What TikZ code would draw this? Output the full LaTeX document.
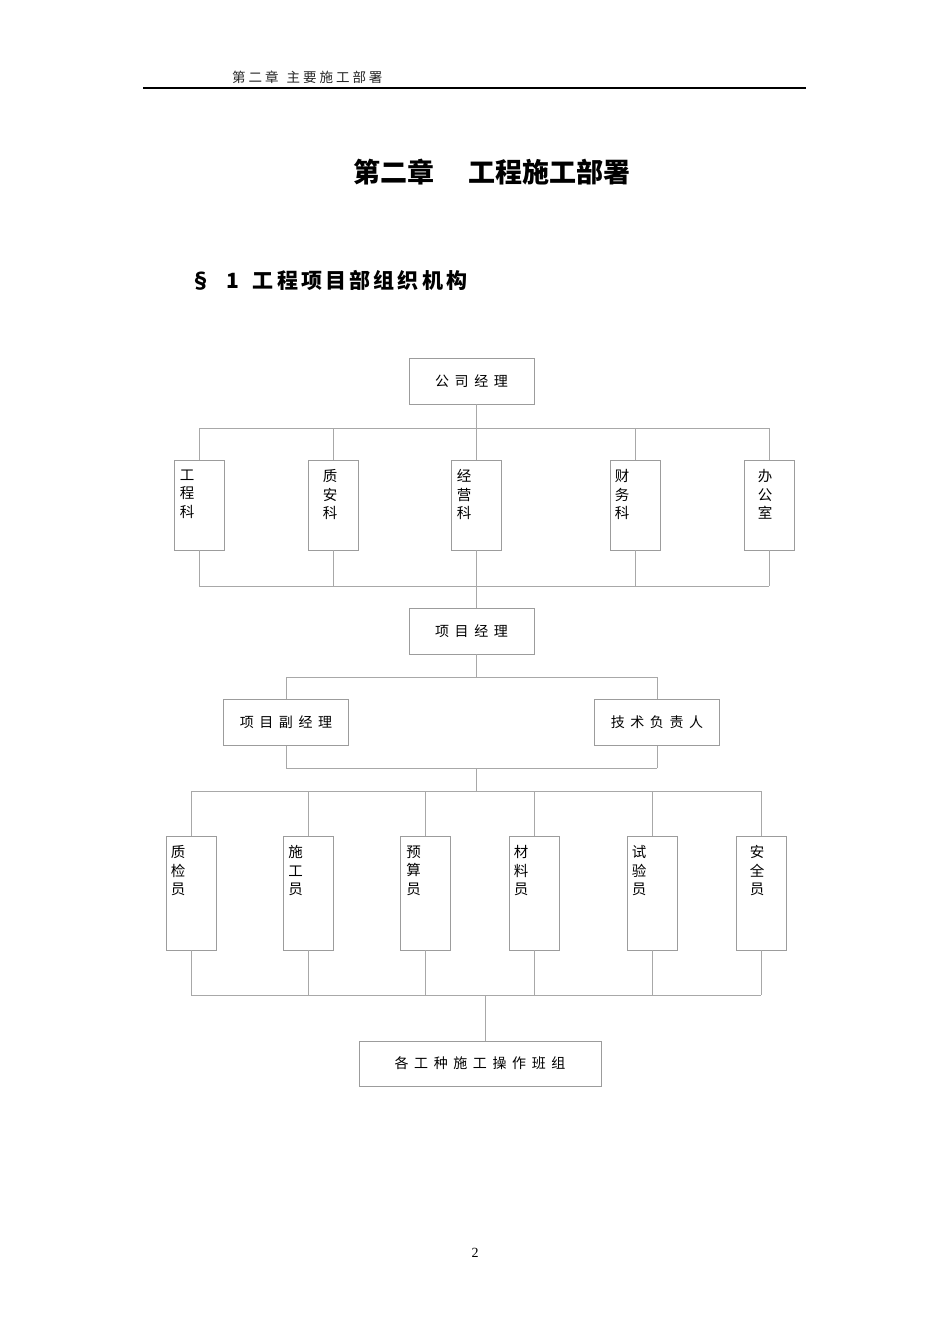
\documentclass[tikz,border=0pt]{standalone}
\usepackage{fontspec}
\usepackage{xcolor}
\usepackage{tikz}
\usetikzlibrary{positioning}
\setmainfont{Liberation Serif}
\newfontfamily\cjk{Noto Sans CJK SC}
\newfontfamily\cjksp[LetterSpace=40]{Noto Sans CJK SC}
\definecolor{rulegray}{HTML}{A8A8A8}
\definecolor{boxgray}{HTML}{9C9C9C}

\begin{document}
\begin{tikzpicture}[
        x=1pt, y=-1pt,
        hbox/.style={
            rectangle,
            draw=boxgray,
            line width=0.9pt,
            minimum width=125pt,
            minimum height=46pt,
            font=\fontsize{14}{16}\cjksp,
            inner sep=0pt
        },
        vbox/.style={
            rectangle,
            draw=boxgray,
            line width=0.9pt,
            minimum width=50pt,
            inner sep=0pt
        },
        vtext/.style={
            anchor=north west,
            align=left,
            font=\fontsize{14.5}{18.5}\cjk,
            inner sep=0pt
        },
        link/.style={
            draw=rulegray,
            line width=0.8pt
        }
    ]
        \useasboundingbox (0,0) rectangle (950,1344);
        \fill[white] (0,0) rectangle (950,1344);

        % page header
        \node[anchor=west, inner sep=0pt, font=\fontsize{13.5}{15}\cjk, text=black!85] (head) at (232,77)
            {\addfontfeature{LetterSpace=22}第二章\hspace{8pt}主要施工部署};
        \draw[line width=1.5pt] (143,88) -- (806,88);

        % titles
        \node[inner sep=0pt, font=\fontsize{27}{30}\cjk\bfseries] (title) at (492,172)
            {第二章\hspace{34pt}工程施工部署};
        \node[anchor=west, inner sep=0pt, font=\fontsize{21}{24}\cjk\bfseries] (sect) at (190,280)
            {§\hspace{15pt}1\hspace{14pt}{\addfontfeature{LetterSpace=15}工程项目部组织机构}};

        % company level
        \node[hbox] (gsjl) at (471.5,381) {公司经理};
        \coordinate (busA) at (476,428);
        \coordinate (busB) at (476,586);

        \node[vbox, minimum height=90pt] (gck) at (199,505) {};
        \node[vbox, minimum height=90pt] (zak) at (333,505) {};
        \node[vbox, minimum height=90pt] (jyk) at (476,505) {};
        \node[vbox, minimum height=90pt] (cwk) at (635,505) {};
        \node[vbox, minimum height=90pt] (bgs) at (769,505) {};
        \node[vtext] at ([xshift=6pt, yshift=-10pt]gck.north west) {工\\程\\科};
        \node[vtext] at ([xshift=15pt, yshift=-10pt]zak.north west) {质\\安\\科};
        \node[vtext] at ([xshift=6pt, yshift=-10pt]jyk.north west) {经\\营\\科};
        \node[vtext] at ([xshift=5pt, yshift=-10pt]cwk.north west) {财\\务\\科};
        \node[vtext] at ([xshift=14pt, yshift=-10pt]bgs.north west) {办\\公\\室};

        \draw[link] (gsjl.south -| busA) -- (busA);
        \draw[link] (gck.north |- busA) -- (bgs.north |- busA);
        \draw[link] (gck.south |- busB) -- (bgs.south |- busB);
        \foreach \n in {gck,zak,jyk,cwk,bgs} {
            \draw[link] (\n.north) -- (\n.north |- busA);
            \draw[link] (\n.south) -- (\n.south |- busB);
        }

        % project level
        \node[hbox] (xmjl) at (471.5,631) {项目经理};
        \draw[link] (busB) -- (xmjl.north -| busB);
        \coordinate (busC) at (476,677);
        \coordinate (busD) at (476,768);

        \node[hbox] (fjl) at (286,722.5) {项目副经理};
        \node[hbox] (jsfz) at (657,722.5) {技术负责人};
        \draw[link] (xmjl.south -| busC) -- (busC);
        \draw[link] (fjl.north |- busC) -- (jsfz.north |- busC);
        \draw[link] (fjl.south |- busD) -- (jsfz.south |- busD);
        \foreach \n in {fjl,jsfz} {
            \draw[link] (\n.north) -- (\n.north |- busC);
            \draw[link] (\n.south) -- (\n.south |- busD);
        }

        % staff level
        \coordinate (busE) at (476,791);
        \coordinate (busF) at (485,995);
        \draw[link] (busD) -- (busE);

        \node[vbox, minimum height=114pt] (zjy) at (191,893) {};
        \node[vbox, minimum height=114pt] (sgy) at (308.5,893) {};
        \node[vbox, minimum height=114pt] (ysy) at (425.5,893) {};
        \node[vbox, minimum height=114pt] (cly) at (534,893) {};
        \node[vbox, minimum height=114pt] (syy) at (652,893) {};
        \node[vbox, minimum height=114pt] (aqy) at (761,893) {};
        \node[vtext] at ([xshift=5pt, yshift=-10pt]zjy.north west) {质\\检\\员};
        \node[vtext] at ([xshift=5pt, yshift=-10pt]sgy.north west) {施\\工\\员};
        \node[vtext] at ([xshift=6pt, yshift=-10pt]ysy.north west) {预\\算\\员};
        \node[vtext] at ([xshift=5pt, yshift=-10pt]cly.north west) {材\\料\\员};
        \node[vtext] at ([xshift=5pt, yshift=-10pt]syy.north west) {试\\验\\员};
        \node[vtext] at ([xshift=14pt, yshift=-10pt]aqy.north west) {安\\全\\员};

        \draw[link] (zjy.north |- busE) -- (aqy.north |- busE);
        \draw[link] (zjy.south |- busF) -- (aqy.south |- busF);
        \foreach \n in {zjy,sgy,ysy,cly,syy,aqy} {
            \draw[link] (\n.north) -- (\n.north |- busE);
            \draw[link] (\n.south) -- (\n.south |- busF);
        }

        % work teams
        \node[hbox, minimum width=242pt, minimum height=45pt] (bz) at (480,1063.5) {各工种施工操作班组};
        \draw[link] (busF) -- (bz.north -| busF);

        % page number
        \node[font=\fontsize{14}{16}\selectfont, inner sep=0pt] (pnum) at (475,1253) {2};
\end{tikzpicture}
\end{document}
